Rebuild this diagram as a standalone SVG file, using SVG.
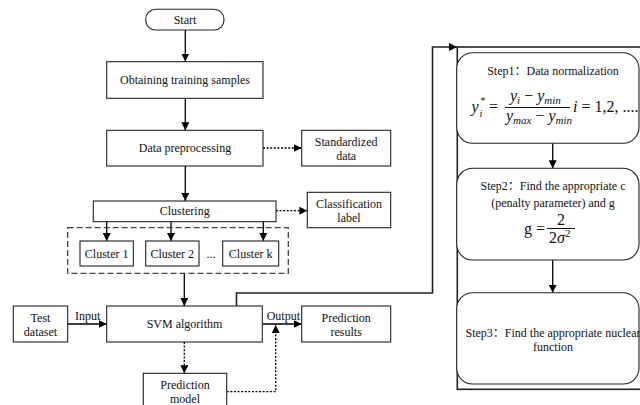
<svg xmlns="http://www.w3.org/2000/svg" width="640" height="405" viewBox="0 0 640 405">
  <defs>
    <marker id="arrow" viewBox="0 0 10 10" refX="10" refY="5" markerWidth="8" markerHeight="8" markerUnits="userSpaceOnUse" orient="auto">
      <path d="M0,0 L10,5 L0,10 z" fill="#000"/>
    </marker>
    <marker id="arrowWide" viewBox="0 0 10 10" refX="10" refY="5" markerWidth="9" markerHeight="8" markerUnits="userSpaceOnUse" orient="auto">
      <path d="M0,0 L10,5 L0,10 z" fill="#000"/>
    </marker>
  </defs>
  <style>
    .box { fill: #fff; stroke: #222; stroke-width: 1.1; }
    .step { fill: #fff; stroke: #222; stroke-width: 1.1; }
    .frame { fill: none; stroke: #222; stroke-width: 1.6; }
    .group { fill: none; stroke: #444; stroke-width: 1.3; stroke-dasharray: 6 3; }
    .solid { fill: none; stroke: #000; stroke-width: 1.3; marker-end: url(#arrow); }
    .dash { fill: none; stroke: #000; stroke-width: 1.3; stroke-dasharray: 2 1.6; marker-end: url(#arrow); }
    .feed { fill: none; stroke: #222; stroke-width: 1.6; marker-end: url(#arrowWide); }
    .bar { stroke: #111; stroke-width: 1; }
    text { font-family: "Liberation Serif", "Noto Sans CJK SC", serif; font-size: 12px; fill: #111; text-anchor: middle; }
    text.m { font-size: 16px; text-anchor: start; }
    .it { font-style: italic; }
    .up { font-style: normal; }
    .sub { font-size: 11px; }
    text.m.tiny { font-size: 10px; }
  </style>

  <!-- connectors -->
  <g id="connectors">
    <path class="solid" d="M185.3,30 V61.5"/>
    <path class="solid" d="M185.3,98.3 V130.3"/>
    <path class="dash" d="M263,148 H301.5"/>
    <path class="solid" d="M185.3,166 V201"/>
    <path class="dash" d="M276,210.7 H307.3"/>
    <path class="solid" d="M106.7,221.7 V241"/>
    <path class="solid" d="M171,221.7 V241"/>
    <path class="solid" d="M263.3,221.7 V241"/>
    <path class="solid" d="M184.3,273.3 V306"/>
    <path class="solid" d="M67.7,324 H106.7"/>
    <path class="solid" d="M262.3,324 H301.7"/>
    <path class="dash" d="M184.3,342 V373.3"/>
    <path class="dash" d="M226.7,391.7 H275.7 V325"/>
    <path class="feed" d="M236.5,306 V293 H432.5 V47 H457"/>
    <path class="solid" d="M552.7,143.3 V168.3"/>
    <path class="solid" d="M552.7,260 V292.7"/>
  </g>

  <!-- left flow -->
  <g id="start">
    <rect class="box" x="145.7" y="9.3" width="78.3" height="20.7" rx="10" ry="10"/>
    <text x="185" y="24">Start</text>
  </g>
  <g id="obtaining-samples">
    <rect class="box" x="106.7" y="61.7" width="156.3" height="36.6"/>
    <text x="185" y="84">Obtaining training samples</text>
  </g>
  <g id="data-preprocessing">
    <rect class="box" x="106.7" y="130.3" width="156.3" height="35.7"/>
    <text x="185" y="152">Data preprocessing</text>
  </g>
  <g id="standardized-data">
    <rect class="box" x="301.7" y="130.3" width="89" height="35.7"/>
    <text x="346.2" y="145.5">Standardized</text>
    <text x="346.2" y="159.5">data</text>
  </g>
  <g id="clustering">
    <rect class="box" x="93.3" y="201" width="182.7" height="20.7"/>
    <text x="184.7" y="215">Clustering</text>
  </g>
  <g id="classification-label">
    <rect class="box" x="307.3" y="192.3" width="83.4" height="35.4"/>
    <text x="349" y="208">Classification</text>
    <text x="349" y="221.5">label</text>
  </g>
  <g id="cluster-group">
    <rect class="group" x="67.7" y="227.7" width="220.6" height="45.6"/>
  </g>
  <g id="cluster-1">
    <rect class="box" x="80" y="241" width="53.3" height="25"/>
    <text x="106.7" y="257.5">Cluster 1</text>
  </g>
  <g id="cluster-2">
    <rect class="box" x="145.7" y="241" width="53.3" height="25"/>
    <text x="172.3" y="257.5">Cluster 2</text>
  </g>
  <g id="cluster-ellipsis">
    <text x="211" y="257.5">...</text>
  </g>
  <g id="cluster-k">
    <rect class="box" x="222.7" y="241" width="56" height="25"/>
    <text x="250.7" y="257.5">Cluster k</text>
  </g>
  <g id="svm-algorithm">
    <rect class="box" x="106.7" y="306" width="155.6" height="36"/>
    <text x="184.5" y="328">SVM algorithm</text>
  </g>
  <g id="test-dataset">
    <rect class="box" x="13.3" y="306" width="54.4" height="36"/>
    <text x="40.5" y="321.5">Test</text>
    <text x="40.5" y="335.5">dataset</text>
  </g>
  <g id="input-label">
    <text x="87.7" y="319.5">Input</text>
  </g>
  <g id="output-label">
    <text x="283.3" y="319.5">Output</text>
  </g>
  <g id="prediction-results">
    <rect class="box" x="301.7" y="306" width="89" height="36"/>
    <text x="346.2" y="321.5">Prediction</text>
    <text x="346.2" y="335.5">results</text>
  </g>
  <g id="prediction-model">
    <rect class="box" x="143.3" y="373.3" width="83.4" height="40"/>
    <text x="185" y="389">Prediction</text>
    <text x="185" y="403">model</text>
  </g>

  <!-- right panel: parameter optimisation steps -->
  <g id="steps-frame">
    <rect class="frame" x="457.3" y="47" width="200" height="342.3"/>
  </g>
  <g id="step1">
    <rect class="step" x="456.7" y="52.7" width="182.3" height="90.6" rx="16" ry="16"/>
    <text x="553" y="75">Step1：Data normalization</text>
    <!-- normalisation formula -->
    <text class="m it" x="471.5" y="112">y</text>
    <text class="m it tiny" x="480" y="103.5">*</text>
    <text class="m it tiny" x="479.5" y="117">i</text>
    <text class="m" x="489" y="112">=</text>
    <text class="m it" x="510" y="101">y<tspan class="sub" dy="3">i</tspan><tspan class="up" dy="-3"> − </tspan>y<tspan class="sub" dy="3">min</tspan></text>
    <line class="bar" x1="505" y1="107.5" x2="570" y2="107.5"/>
    <text class="m it" x="506" y="121">y<tspan class="sub" dy="3">max</tspan><tspan class="up" dy="-3"> − </tspan>y<tspan class="sub" dy="3">min</tspan></text>
    <text class="m it" x="573" y="112">i<tspan class="up"> = 1,2, ....</tspan></text>
  </g>
  <g id="step2">
    <rect class="step" x="456.7" y="168.3" width="182.3" height="91.7" rx="16" ry="16"/>
    <text x="553" y="190">Step2：Find the appropriate c</text>
    <text x="553" y="206.5">(penalty parameter) and g</text>
    <!-- kernel width formula -->
    <text class="m" x="524" y="233.5">g =</text>
    <text class="m" x="557" y="224.5">2</text>
    <line class="bar" x1="547" y1="228.5" x2="575" y2="228.5"/>
    <text class="m" x="549" y="243">2<tspan class="it">σ</tspan><tspan class="sub" dy="-6">2</tspan></text>
  </g>
  <g id="step3">
    <rect class="step" x="456.7" y="292.7" width="182.3" height="91.3" rx="16" ry="16"/>
    <text x="553" y="337">Step3：Find the appropriate nuclear</text>
    <text x="553" y="351">function</text>
  </g>
</svg>
